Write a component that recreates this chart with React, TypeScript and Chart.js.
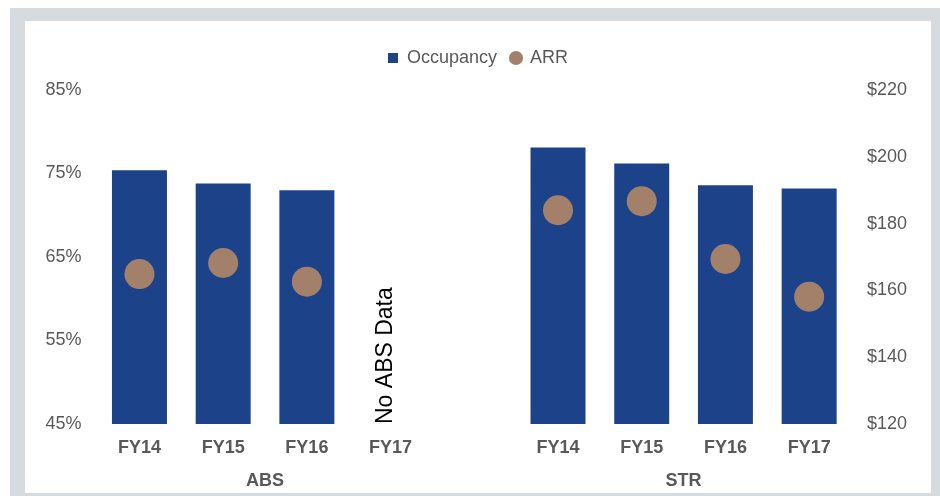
import React, { useEffect, useRef } from 'react';
import { Chart, registerables } from 'chart.js';

Chart.register(...registerables);

// ---- data ----
const categories = ['FY14', 'FY15', 'FY16', 'FY17', '', 'FY14', 'FY15', 'FY16', 'FY17'];
const absOccupancy: (number | null)[] = [75.4, 73.8, 73.0, null];
const strOccupancy: (number | null)[] = [78.1, 76.2, 73.6, 73.2];
const absArr: (number | null)[] = [164.9, 168.2, 162.6, null];
const strArr: (number | null)[] = [184.0, 186.7, 169.4, 158.1];
const occupancyTicks = [45, 55, 65, 75, 85];
const arrTicks = [120, 140, 160, 180, 200, 220];
const groups = [
  { label: 'ABS', first: 0, last: 3 },
  { label: 'STR', first: 5, last: 8 },
];
const noDataNote = 'No ABS Data';
const noDataIndex = 3;

const FONT = "'Liberation Sans', Arial, sans-serif";
const GRAY_TEXT = '#595959';
const BAR_COLOR = '#1C438A';
const DOT_COLOR = '#A3806A';

const occupancyData = [...absOccupancy, null, ...strOccupancy];
const arrData = [...absArr, null, ...strArr];

const LEGEND_EXTRA = 13;

const legendMargin = {
  id: 'legendMargin',
  beforeInit(chart: any) {
    const legend = chart.legend;
    if (!legend) return;
    const origFit = legend.fit;
    legend.fit = function () {
      origFit.bind(legend)();
      this.height += LEGEND_EXTRA;
    };
  },
};

const annotations = {
  id: 'annotations',
  afterDatasetsDraw(chart: any) {
    const { ctx, chartArea, scales } = chart;
    const x = scales.x;
    ctx.save();
    // "No ABS Data" note
    ctx.translate(x.getPixelForValue(noDataIndex) - 5, chartArea.bottom);
    ctx.rotate(-Math.PI / 2);
    ctx.font = `23px ${FONT}`;
    ctx.fillStyle = '#000000';
    ctx.textAlign = 'left';
    ctx.textBaseline = 'middle';
    ctx.fillText(noDataNote, 0, 0);
    ctx.restore();

    // group labels
    ctx.save();
    ctx.font = `bold 18px ${FONT}`;
    ctx.fillStyle = GRAY_TEXT;
    ctx.textAlign = 'center';
    ctx.textBaseline = 'middle';
    groups.forEach((g) => {
      const cx = (x.getPixelForValue(g.first) + x.getPixelForValue(g.last)) / 2;
      ctx.fillText(g.label, cx, chartArea.bottom + 57);
    });
    ctx.restore();
  },
};

export default function App() {
  const canvasRef = useRef<HTMLCanvasElement | null>(null);

  useEffect(() => {
    if (!canvasRef.current) return;
    const chart = new Chart(canvasRef.current, {
      type: 'bar',
      data: {
        labels: categories,
        datasets: [
          {
            type: 'bar',
            label: 'Occupancy',
            data: occupancyData,
            backgroundColor: BAR_COLOR,
            borderWidth: 0,
            barPercentage: 0.657,
            categoryPercentage: 1,
            yAxisID: 'y',
            order: 1,
            pointStyle: 'rect',
          } as any,
          {
            type: 'line',
            label: 'ARR',
            data: arrData,
            showLine: false,
            backgroundColor: DOT_COLOR,
            borderColor: DOT_COLOR,
            borderWidth: 0,
            pointRadius: 15,
            pointHoverRadius: 15,
            pointBackgroundColor: DOT_COLOR,
            pointBorderWidth: 0,
            pointStyle: 'circle',
            yAxisID: 'y2',
            order: 0,
          } as any,
        ],
      },
      options: {
        responsive: false,
        animation: false,
        devicePixelRatio: 1,
        layout: { padding: { top: 14, left: 0, right: 0, bottom: 0 } },
        plugins: {
          legend: {
            position: 'top',
            labels: {
              usePointStyle: true,
              boxWidth: 10,
              boxHeight: 10,
              padding: 14,
              color: GRAY_TEXT,
              font: { family: FONT, size: 18 },
              sort: (a: any, b: any) => a.datasetIndex - b.datasetIndex,
            },
          },
          tooltip: { enabled: false },
        },
        scales: {
          x: {
            grid: { display: false },
            border: { display: false },
            ticks: {
              color: GRAY_TEXT,
              font: { family: FONT, size: 18, weight: 'bold' },
              padding: 5,
              maxRotation: 0,
              autoSkip: false,
            },
            afterFit(s: any) {
              s.height = 69;
            },
          },
          y: {
            position: 'left',
            min: occupancyTicks[0],
            max: occupancyTicks[occupancyTicks.length - 1],
            afterBuildTicks(s: any) {
              s.ticks = occupancyTicks.map((v) => ({ value: v }));
            },
            ticks: {
              color: GRAY_TEXT,
              font: { family: FONT, size: 18 },
              padding: 8,
              callback: (v: any) => `${v}%`,
            },
            grid: { display: false },
            border: { display: false },
            afterFit(s: any) {
              s.width = 72.6;
            },
          },
          y2: {
            position: 'right',
            min: arrTicks[0],
            max: arrTicks[arrTicks.length - 1],
            afterBuildTicks(s: any) {
              s.ticks = arrTicks.map((v) => ({ value: v }));
            },
            ticks: {
              color: GRAY_TEXT,
              font: { family: FONT, size: 18 },
              padding: 8,
              callback: (v: any) => `$${v}`,
            },
            grid: { display: false },
            border: { display: false },
            afterFit(s: any) {
              s.width = 80;
            },
          },
        },
      } as any,
      plugins: [legendMargin, annotations],
    });
    return () => chart.destroy();
  }, []);

  return (
    <div
      style={{
        position: 'absolute',
        left: 10,
        top: 8,
        width: 930,
        height: 488,
        background: '#D6DBDF',
      }}
    >
      <div
        style={{
          position: 'absolute',
          left: 15,
          top: 13,
          width: 906,
          height: 472,
          background: '#FFFFFF',
        }}
      >
        <canvas ref={canvasRef} width={906} height={472} style={{ display: 'block' }} />
      </div>
    </div>
  );
}
